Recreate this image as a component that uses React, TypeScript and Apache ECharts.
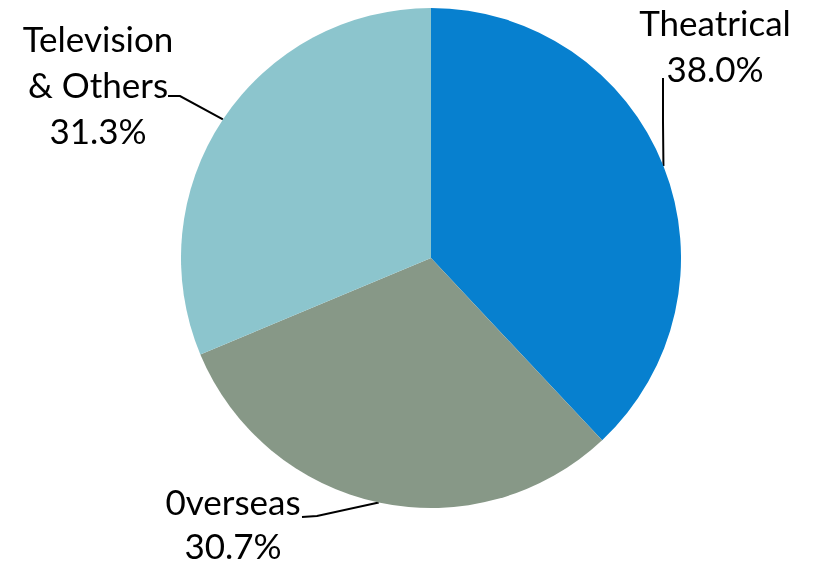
import React, { useEffect, useRef } from "react";
import * as echarts from "echarts";

const categories = ["Theatrical", "0verseas", "Television\n& Others"];
const shares = [38.0, 30.7, 31.3];
const colors = ["#0780CF", "#879887", "#8CC5CD"];

// label anchor (centre x, middle y), line height and leader-line bend/end points, per category
const labelSpots = [
  { x: 715, y: 45, lh: 46, bend: [663, 122], end: [663, 78] },
  { x: 233, y: 523, lh: 44, bend: [317, 516], end: [302, 517] },
  { x: 98, y: 84, lh: 46, bend: [180, 96], end: [168, 96] },
];

export default function App() {
  const ref = useRef<HTMLDivElement>(null);
  useEffect(() => {
    if (!ref.current) return;
    const chart = echarts.init(ref.current, undefined, { renderer: "svg" });
    const cx = 431;
    const cy = 258;
    const r = 250;
    const total = shares.reduce((a, b) => a + b, 0);
    chart.setOption({
      animation: false,
      series: [
        {
          type: "pie",
          center: [cx, cy],
          radius: r,
          startAngle: 90,
          clockwise: true,
          silent: true,
          data: categories.map((name, i) => ({
            name,
            value: shares[i],
            itemStyle: { color: colors[i] },
            label: { lineHeight: labelSpots[i].lh },
          })),
          label: {
            show: true,
            position: "outside",
            formatter: (p: any) => `${p.name}\n${p.value.toFixed(1)}%`,
            fontFamily: "Lato",
            fontSize: 35,
            lineHeight: 46,
            color: "#000",
            align: "center",
            width: 260,
            overflow: "none",
          },
          labelLine: {
            show: true,
            lineStyle: { color: "#000", width: 2 },
          },
          labelLayout: (params: any) => {
            const i = params.dataIndex;
            const spot = labelSpots[i];
            let acc = 0;
            for (let k = 0; k < i; k++) acc += shares[k];
            const mid = ((acc + shares[i] / 2) / total) * Math.PI * 2;
            const edge = [cx + r * Math.sin(mid), cy - r * Math.cos(mid)];
            return {
              x: spot.x,
              y: spot.y,
              align: "center",
              verticalAlign: "middle",
              labelLinePoints: [edge, spot.bend, spot.end],
            };
          },
        },
      ],
    });
    return () => chart.dispose();
  }, []);
  return (
    <div
      ref={ref}
      style={{ position: "fixed", left: 0, top: 0, width: 817, height: 567 }}
    />
  );
}
